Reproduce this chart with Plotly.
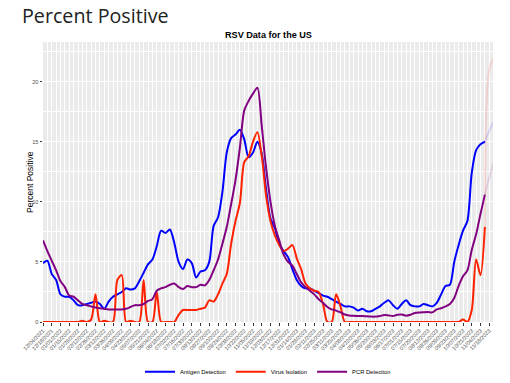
import pandas as pd
import plotly.graph_objects as go

start_date = "2021-12-04"

antigen = [4.9, 5.1, 4.0, 3.5, 2.3, 2.1, 2.1, 1.8, 1.4, 1.4,
           1.5, 1.6, 1.7, 1.5, 1.1, 1.7, 2.1, 2.3, 2.5, 2.8,
           2.7, 2.8, 3.4, 4.1, 4.8, 5.2, 6.3, 7.6, 7.4, 7.7,
           6.6, 5.0, 4.4, 5.2, 4.9, 3.7, 4.2, 4.3, 5.0, 8.0,
           8.7, 10.8, 14.1, 15.3, 15.6, 16.0, 15.2, 13.7, 14.1, 15.0,
           14.0, 11.0, 8.6, 7.8, 6.5, 5.9, 5.4, 4.4, 3.5, 3.0,
           2.8, 2.8, 2.6, 2.4, 2.2, 2.1, 1.9, 1.7, 1.5, 1.3,
           1.3, 1.2, 0.95, 1.1, 0.9, 0.9, 1.1, 1.3, 1.6, 1.8,
           1.4, 1.1, 1.5, 1.8, 1.4, 1.3, 1.3, 1.5, 1.4, 1.3,
           1.6, 2.3, 3.0, 3.1, 5.0, 6.4, 7.6, 8.4, 12.4, 14.3,
           14.8, 15.0]

virus = [0.0, 0.0, 0.0, 0.0, 0.0, 0.0, 0.0, 0.0, 0.0, 0.1,
         0.0, 0.2, 2.3, 0.0, 0.1, 0.0, 0.0, 3.5, 3.9, 0.0,
         0.1, 0.0, 0.0, 3.5, 0.0, 0.0, 2.5, 0.0, 0.0, 0.0,
         0.0, 0.6, 1.0, 1.0, 1.0, 1.0, 1.1, 1.2, 1.8, 1.7,
         2.3, 3.2, 4.0, 6.5, 8.4, 9.9, 13.3, 13.8, 15.0, 15.8,
         13.8, 10.5, 8.4, 7.2, 6.4, 5.9, 6.1, 6.4, 5.3, 4.4,
         3.2, 2.8, 2.6, 2.5, 1.5, 0.0, 0.0, 2.3, 1.3, 0.0,
         0.0, 0.0, 0.0, 0.0, 0.0, 0.0, 0.0, 0.0, 0.0, 0.0,
         0.0, 0.0, 0.0, 0.0, 0.0, 0.0, 0.0, 0.0, 0.0, 0.0,
         0.0, 0.0, 0.0, 0.0, 0.0, 0.0, 0.2, 0.0, 1.0, 5.2,
         3.9, 7.9]

pcr = [6.8, 5.9, 5.1, 4.3, 3.4, 2.9, 2.2, 2.1, 1.8, 1.5,
       1.4, 1.3, 1.2, 1.15, 1.1, 1.05, 1.05, 1.05, 1.05, 1.1,
       1.25, 1.4, 1.4, 1.5, 1.75, 1.9, 2.6, 2.8, 2.9, 3.1,
       3.2, 2.9, 2.75, 3.0, 2.9, 2.9, 3.1, 3.05, 3.5, 4.3,
       5.2, 6.5, 7.9, 9.8, 11.8, 14.5, 17.6, 18.4, 19.0, 19.5,
       16.3, 12.8, 10.0, 8.0, 6.8, 5.6, 5.0, 4.7, 4.0, 3.3,
       2.9, 2.6, 2.3, 1.9, 1.6, 1.25, 1.05, 0.95, 0.8, 0.62,
       0.55, 0.52, 0.5, 0.5, 0.47, 0.45, 0.45, 0.5, 0.58, 0.55,
       0.5, 0.6, 0.62, 0.53, 0.6, 0.75, 0.8, 0.82, 0.83, 0.8,
       1.05, 1.15, 1.3, 1.5, 2.0, 3.0, 3.8, 4.3, 6.0, 7.3,
       9.0, 10.6]

# provisional (faded) tail: last solid week + two following weeks
antigen_tail = [15.0, 15.9, 16.7]
virus_tail = [7.9, 21.0, 22.0]
pcr_tail = [10.6, 12.0, 13.3]

series_names = ["Antigen Detection", "Virus Isolation", "PCR Detection"]
series_colors = ["#0000FF", "#FF2200", "#800080"]
faded_colors = ["rgba(0,0,255,0.13)", "rgba(255,34,0,0.13)", "rgba(128,0,128,0.13)"]

dates = pd.date_range(start_date, periods=len(antigen), freq="7D")
tail_dates = pd.date_range(dates[-1], periods=3, freq="7D")

fig = go.Figure()
for vals, tail, fcol in zip([antigen, virus, pcr], [antigen_tail, virus_tail, pcr_tail], faded_colors):
    fig.add_trace(go.Scatter(x=tail_dates, y=tail, mode="lines", showlegend=False,
                             line=dict(color=fcol, width=2, shape="spline"), hoverinfo="skip"))
for name, vals, col in zip(series_names, [antigen, virus, pcr], series_colors):
    fig.add_trace(go.Scatter(x=dates, y=vals, mode="lines", name=name,
                             line=dict(color=col, width=2, shape="spline", smoothing=0.8)))

W, H = 510, 383
fig.update_layout(
    width=W, height=H,
    margin=dict(l=43, r=17, t=42, b=61, autoexpand=False),
    paper_bgcolor="white",
    plot_bgcolor="#EBEBEB",
    font=dict(family="Liberation Sans, Arial", color="#000000"),
    title=dict(text="Percent Positive", x=22 / W, xanchor="left",
               y=1 - 16.5 / H, yanchor="middle",
               font=dict(family="Open Sans", size=19.7, color="#222222")),
    showlegend=True,
    legend=dict(orientation="h", x=0.5, xanchor="center", y=-0.178, yanchor="middle",
                font=dict(size=5.8, color="#000000"), itemwidth=30,
                bgcolor="rgba(0,0,0,0)"),
)

fig.add_annotation(text="<b>RSV Data for the US</b>", xref="paper", yref="paper",
                   x=0.5, y=1.025, xanchor="center", yanchor="middle", showarrow=False,
                   font=dict(size=9.1, color="#000000", family="Liberation Sans, Arial"))
fig.add_annotation(text="Percent Positive", xref="paper", yref="paper",
                   x=-0.029, y=0.5, xanchor="center", yanchor="middle", textangle=-90,
                   showarrow=False,
                   font=dict(size=8.5, color="#000000", family="Liberation Sans, Arial"))

fig.update_xaxes(
    type="date", automargin=False,
    range=["2021-12-04", "2023-11-24"],
    tick0="2021-12-04", dtick=14 * 24 * 3600 * 1000,
    tickformat="%m/%d/%Y", tickangle=-45,
    tickfont=dict(size=5.5, color="#4D4D4D"),
    ticks="outside", ticklen=2.5, tickcolor="#333333", tickwidth=0.6,
    showgrid=True, gridcolor="#FFFFFF", gridwidth=0.9,
    minor=dict(dtick=7 * 24 * 3600 * 1000, tick0="2021-12-04", showgrid=True,
               gridcolor="#FFFFFF", gridwidth=0.45),
    zeroline=False, showline=False,
)
fig.update_yaxes(
    range=[0, 23.3], tick0=0, dtick=5, automargin=False,
    tickfont=dict(size=5.5, color="#4D4D4D"),
    ticks="outside", ticklen=2.5, tickcolor="#333333", tickwidth=0.6,
    showgrid=True, gridcolor="#FFFFFF", gridwidth=0.9,
    minor=dict(dtick=2.5, showgrid=True, gridcolor="#FFFFFF", gridwidth=0.45),
    zeroline=False, showline=False,
)

# remove the browser's default 8px page margin so the figure fills the window
fig.write_html("out.html", config={"displayModeBar": False},
               post_script="document.body.style.margin='0';")
